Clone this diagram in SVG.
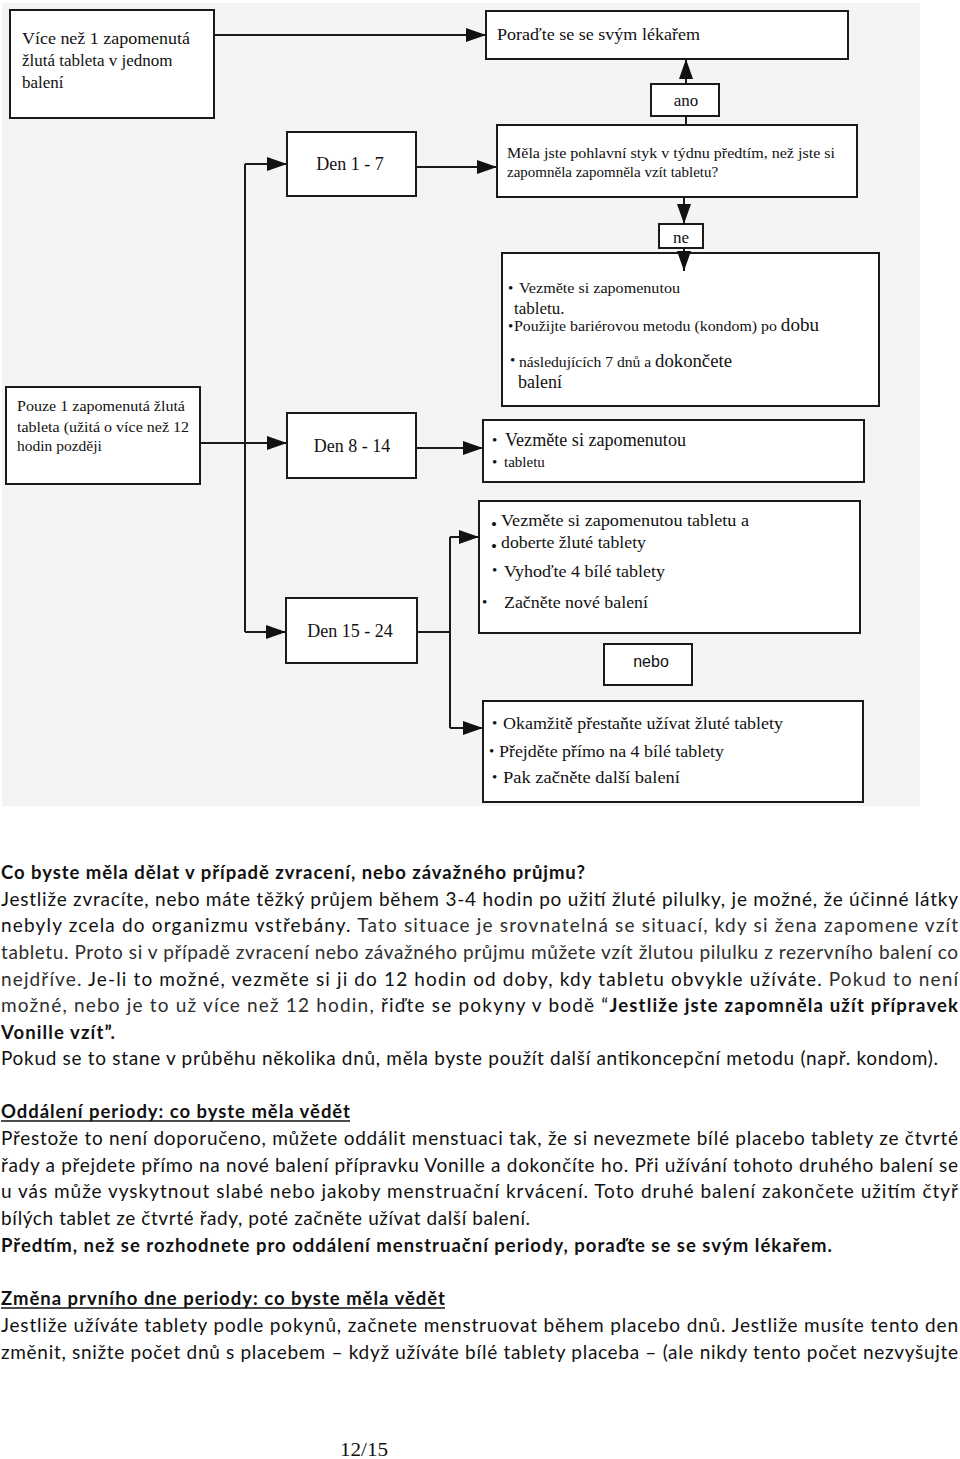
<svg xmlns="http://www.w3.org/2000/svg" width="960" height="1459" viewBox="0 0 960 1459">
<style>
.box{fill:#fff;stroke:#1a1a1a;stroke-width:2}
.ln{fill:none;stroke:#1a1a1a;stroke-width:2}
.t{font-family:"Liberation Serif","Times New Roman",serif;fill:#111}
.s{font-family:"Liberation Sans",Arial,sans-serif;fill:#111}
.p{font-family:Lato,"Liberation Sans",sans-serif;font-size:19px;fill:#111}
.b{font-weight:bold;font-size:18.5px}
.g{fill:#2e2e2e}
.ul{stroke:#111;stroke-width:1.3}
</style>
<defs>
<marker id="ah" viewBox="0 0 20 14" refX="20" refY="7" markerWidth="20" markerHeight="14" markerUnits="userSpaceOnUse" orient="auto">
<path d="M0,0 L20,7 L0,14 z" fill="#111"/>
</marker>
</defs>
<rect x="2" y="3" width="918" height="803" fill="#f4f4f4"/>

<g id="n-vice">
<rect class="box" x="10" y="10" width="204" height="108"/>
<text class="t" font-size="17" x="22" y="44" textLength="168" lengthAdjust="spacingAndGlyphs">Více než 1 zapomenutá</text>
<text class="t" font-size="17" x="22" y="66">žlutá tableta v jednom</text>
<text class="t" font-size="17" x="22" y="88">balení</text>
</g>
<g id="n-poradte">
<rect class="box" x="486" y="11" width="362" height="48"/>
<text class="t" font-size="17" x="497" y="40" textLength="203" lengthAdjust="spacingAndGlyphs">Poraďte se se svým lékařem</text>
</g>
<g id="n-den17">
<rect class="box" x="287" y="132" width="129" height="64"/>
<text class="t" font-size="18" x="350" y="170" text-anchor="middle">Den 1 - 7</text>
</g>
<g id="n-otazka">
<rect class="box" x="497" y="125" width="360" height="72"/>
<text class="t" font-size="15" x="507" y="158" textLength="328" lengthAdjust="spacingAndGlyphs">Měla jste pohlavní styk v týdnu předtím, než jste si</text>
<text class="t" font-size="15" x="507" y="177">zapomněla zapomněla vzít tabletu?</text>
</g>
<g id="n-ano">
<rect class="box" x="651" y="84" width="68" height="32"/>
<text class="t" font-size="17" x="686" y="106" text-anchor="middle">ano</text>
</g>
<g id="n-ne">
<rect class="box" x="659" y="224" width="44" height="24"/>
<text class="t" font-size="17" x="681" y="243" text-anchor="middle">ne</text>
</g>
<g id="n-pouze">
<rect class="box" x="6" y="387" width="194" height="97"/>
<text class="t" font-size="15.5" x="17" y="411" textLength="168" lengthAdjust="spacingAndGlyphs">Pouze 1 zapomenutá žlutá</text>
<text class="t" font-size="15.5" x="17" y="432" textLength="172" lengthAdjust="spacingAndGlyphs">tableta (užitá o více než 12</text>
<text class="t" font-size="15.5" x="17" y="451">hodin později</text>
</g>
<g id="n-den814">
<rect class="box" x="287" y="413" width="129" height="65"/>
<text class="t" font-size="18" x="352" y="452" text-anchor="middle">Den 8 - 14</text>
</g>
<g id="n-den1524">
<rect class="box" x="286" y="598" width="131" height="65"/>
<text class="t" font-size="18" x="350" y="637" text-anchor="middle">Den 15 - 24</text>
</g>
<g id="n-vezmete1">
<rect class="box" x="502" y="253" width="377" height="153"/>
<text class="t" font-size="15" x="508" y="293">•</text>
<text class="t" font-size="15" x="519" y="293" textLength="161" lengthAdjust="spacingAndGlyphs">Vezměte si zapomenutou</text>
<text class="t" font-size="17" x="514" y="314">tabletu.</text>
<text class="t" font-size="15" x="508" y="331">•</text>
<text class="t" font-size="15" x="514" y="331" textLength="305" lengthAdjust="spacingAndGlyphs">Použijte bariérovou metodu (kondom) po <tspan font-size="18">dobu</tspan></text>
<text class="t" font-size="15" x="510" y="365">•</text>
<text class="t" font-size="15" x="519" y="367" textLength="213" lengthAdjust="spacingAndGlyphs">následujících 7 dnů a <tspan font-size="18">dokončete</tspan></text>
<text class="t" font-size="18" x="518" y="388">balení</text>
</g>
<g id="n-vezmete2">
<rect class="box" x="483" y="420" width="381" height="62"/>
<text class="t" font-size="15" x="492" y="445">•</text>
<text class="t" font-size="18" x="505" y="446" textLength="181" lengthAdjust="spacingAndGlyphs">Vezměte si zapomenutou</text>
<text class="t" font-size="15" x="492" y="467">•</text>
<text class="t" font-size="15" x="504" y="467">tabletu</text>
</g>
<g id="n-vezmete3">
<rect class="box" x="479" y="501" width="381" height="132"/>
<text class="t" font-size="17" x="491" y="530">•</text>
<text class="t" font-size="17" x="501" y="526" textLength="248" lengthAdjust="spacingAndGlyphs">Vezměte si zapomenutou tabletu a</text>
<text class="t" font-size="17" x="491" y="552">•</text>
<text class="t" font-size="17" x="501" y="548" textLength="145" lengthAdjust="spacingAndGlyphs">doberte žluté tablety</text>
<text class="t" font-size="15" x="492" y="575">•</text>
<text class="t" font-size="17" x="504" y="577" textLength="161" lengthAdjust="spacingAndGlyphs">Vyhoďte 4 bílé tablety</text>
<text class="t" font-size="15" x="482" y="607">•</text>
<text class="t" font-size="17" x="504" y="608" textLength="144" lengthAdjust="spacingAndGlyphs">Začněte nové balení</text>
</g>
<g id="n-nebo">
<rect class="box" x="604" y="644" width="88" height="41"/>
<text class="s" font-size="16" x="651" y="667" text-anchor="middle">nebo</text>
</g>
<g id="n-okamzite">
<rect class="box" x="483" y="701" width="380" height="101"/>
<text class="t" font-size="15" x="492" y="728">•</text>
<text class="t" font-size="17" x="503" y="729" textLength="280" lengthAdjust="spacingAndGlyphs">Okamžitě přestaňte užívat žluté tablety</text>
<text class="t" font-size="15" x="489" y="756">•</text>
<text class="t" font-size="17" x="499" y="757" textLength="225" lengthAdjust="spacingAndGlyphs">Přejděte přímo na 4 bílé tablety</text>
<text class="t" font-size="15" x="492" y="782">•</text>
<text class="t" font-size="17" x="503" y="783" textLength="177" lengthAdjust="spacingAndGlyphs">Pak začněte další  balení</text>
</g>

<g id="connectors">
<path class="ln" d="M214,35 H486" marker-end="url(#ah)"/>
<path class="ln" d="M245,164 V632"/>
<path class="ln" d="M245,164 H287" marker-end="url(#ah)"/>
<path class="ln" d="M245,632 H286" marker-end="url(#ah)"/>
<path class="ln" d="M200,443 H287" marker-end="url(#ah)"/>
<path class="ln" d="M416,167 H497" marker-end="url(#ah)"/>
<path class="ln" d="M686,125 V116"/>
<path class="ln" d="M686,84 V59" marker-end="url(#ah)"/>
<path class="ln" d="M684,197 V224" marker-end="url(#ah)"/>
<path class="ln" d="M684,248 V271" marker-end="url(#ah)"/>
<path class="ln" d="M416,448 H483" marker-end="url(#ah)"/>
<path class="ln" d="M417,632 H450 M450,537 V728"/>
<path class="ln" d="M450,537 H479" marker-end="url(#ah)"/>
<path class="ln" d="M450,728 H483" marker-end="url(#ah)"/>
</g>

<g id="text-body">
<text class="p b" x="1" y="879" textLength="584" lengthAdjust="spacing">Co byste měla dělat v případě zvracení, nebo závažného průjmu?</text>
<text class="p" x="1" y="906" textLength="957" lengthAdjust="spacing">Jestliže zvracíte, nebo máte těžký průjem během 3-4 hodin po užití žluté pilulky, je možné, že účinné látky</text>
<text class="p" x="1" y="932" textLength="957" lengthAdjust="spacing">nebyly zcela do organizmu vstřebány. <tspan class="g">Tato situace je srovnatelná se situací, kdy si žena zapomene vzít</tspan></text>
<text class="p" x="1" y="959" textLength="957" lengthAdjust="spacing"><tspan class="g">tabletu. Proto si v případě zvracení nebo závažného průjmu můžete vzít žlutou pilulku z rezervního balení co</tspan></text>
<text class="p" x="1" y="986" textLength="957" lengthAdjust="spacing"><tspan class="g">nejdříve.</tspan>  Je-li to možné, vezměte si ji do 12 hodin od doby, kdy tabletu obvykle užíváte. <tspan class="g">Pokud to není</tspan></text>
<text class="p" x="1" y="1012" textLength="957" lengthAdjust="spacing"><tspan class="g">možné, nebo je to už více než 12 hodin,</tspan> řiďte se pokyny v bodě “<tspan class="b">Jestliže jste zapomněla užít přípravek</tspan></text>
<text class="p b" x="1" y="1039" textLength="114" lengthAdjust="spacing">Vonille vzít”.</text>
<text class="p" x="1" y="1065" textLength="937" lengthAdjust="spacing">Pokud se to stane v průběhu několika dnů, měla byste použít další antikoncepční metodu (např. kondom).</text>

<text class="p b" x="1" y="1118" textLength="349" lengthAdjust="spacing">Oddálení periody: co byste měla vědět</text>
<line class="ul" x1="1" y1="1121" x2="350" y2="1121"/>
<text class="p" x="1" y="1145" textLength="957" lengthAdjust="spacing">Přestože to není doporučeno, můžete oddálit menstuaci tak, že si nevezmete bílé placebo tablety ze čtvrté</text>
<text class="p" x="1" y="1172" textLength="957" lengthAdjust="spacing">řady a přejdete přímo na nové balení přípravku Vonille a dokončíte ho. Při užívání tohoto druhého balení se</text>
<text class="p" x="1" y="1198" textLength="957" lengthAdjust="spacing">u vás může vyskytnout slabé nebo jakoby menstruační krvácení. Toto druhé balení zakončete užitím čtyř</text>
<text class="p" x="1" y="1225" textLength="529" lengthAdjust="spacing">bílých tablet ze čtvrté řady, poté začněte užívat další balení.</text>
<text class="p b" x="1" y="1252" textLength="831" lengthAdjust="spacing">Předtím, než se rozhodnete pro oddálení menstruační periody, poraďte se se svým lékařem.</text>

<text class="p b" x="1" y="1305" textLength="444" lengthAdjust="spacing">Změna prvního dne periody: co byste měla vědět</text>
<line class="ul" x1="1" y1="1308" x2="445" y2="1308"/>
<text class="p" x="1" y="1332" textLength="957" lengthAdjust="spacing">Jestliže užíváte tablety podle pokynů, začnete menstruovat během placebo dnů. Jestliže musíte tento den</text>
<text class="p" x="1" y="1359" textLength="957" lengthAdjust="spacing">změnit, snižte počet dnů s placebem – když užíváte bílé tablety placeba – (ale nikdy tento počet nezvyšujte</text>

<text class="t" font-size="19" x="340" y="1456" textLength="48" lengthAdjust="spacingAndGlyphs">12/15</text>
</g>
</svg>
